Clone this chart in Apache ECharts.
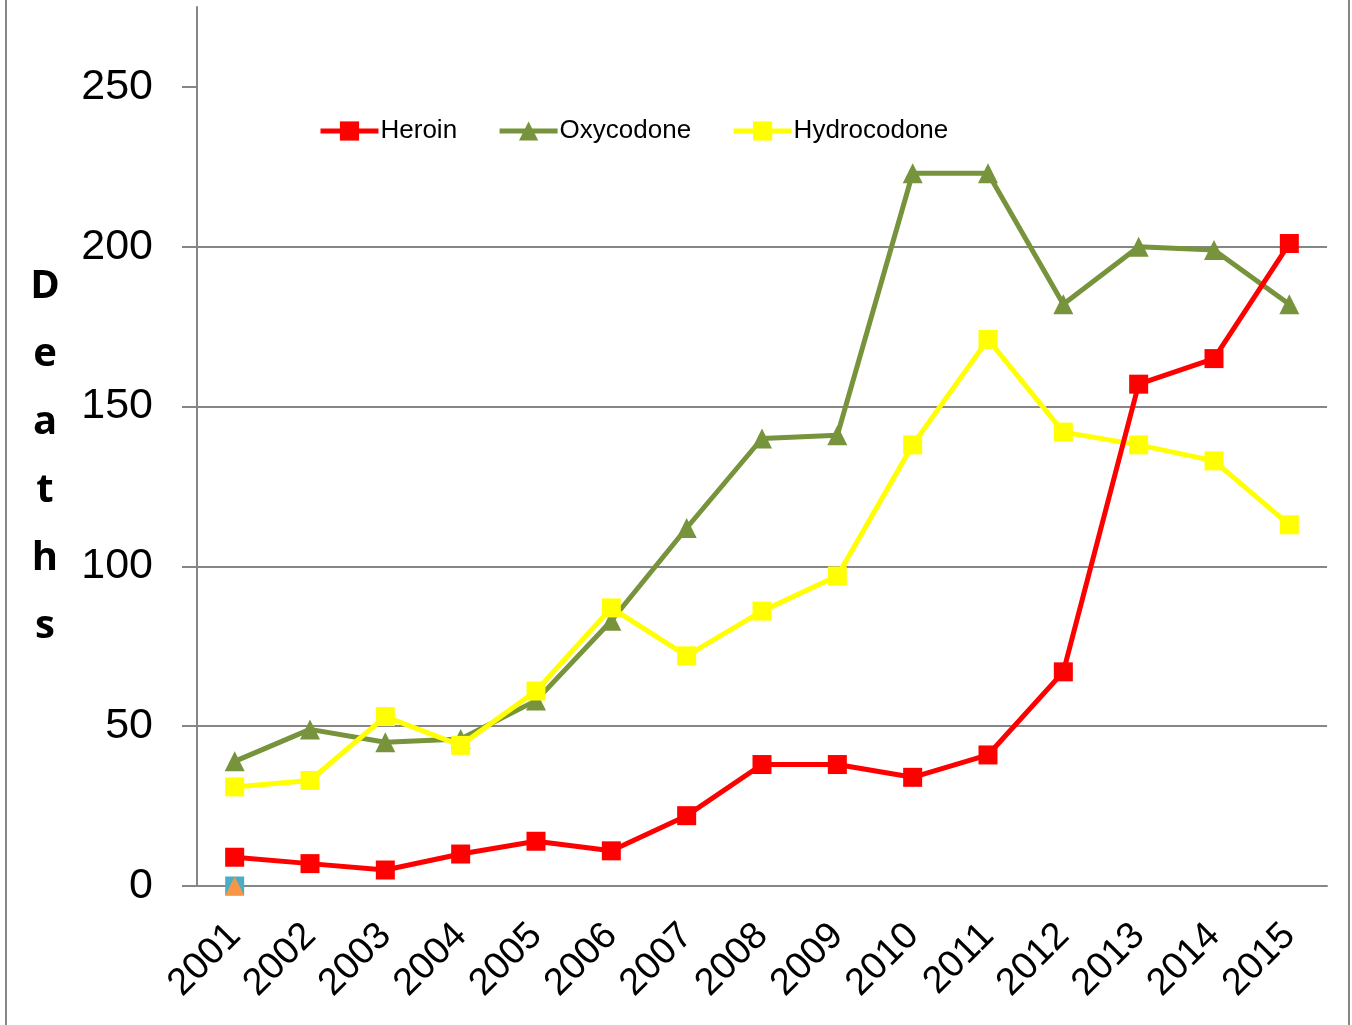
<!DOCTYPE html>
<html>
<head>
    <meta charset="UTF-8">
    <title>Deaths chart</title>
    <style>
        html, body { margin: 0; padding: 0; background: #fff; }
        #chart { width: 1352px; height: 1025px; }
    </style>
</head>
<body>
    <div id="chart"></div>
    <script src="https://cdn.jsdelivr.net/npm/echarts@6/dist/echarts.min.js"></script>
    <script>
        var years = ['2001', '2002', '2003', '2004', '2005', '2006', '2007', '2008',
            '2009', '2010', '2011', '2012', '2013', '2014', '2015'];
        var heroin = [9, 7, 5, 10, 14, 11, 22, 38, 38, 34, 41, 67, 157, 165, 201];
        var oxycodone = [39, 49, 45, 46, 58, 83, 112, 140, 141, 223, 223, 182, 200, 199, 182];
        var hydrocodone = [31, 33, 53, 44, 61, 87, 72, 86, 97, 138, 171, 142, 138, 133, 113];
        // two stray series that only have a zero at 2001
        var extraA = [0];
        var extraB = [0];
        var yTicks = [0, 50, 100, 150, 200, 250];

        (function initChart() {
            var myChart = echarts.init(document.getElementById('chart'));
            var gray = '#868686';

            var options = {
                animation: false,
                textStyle: { fontFamily: 'Liberation Sans' },
                title: {
                    text: 'D\ne\na\nt\nh\ns',
                    left: 40,
                    top: 248,
                    textAlign: 'center',
                    textStyle: {
                        fontSize: 40,
                        fontWeight: 'bold',
                        lineHeight: 68,
                        color: '#000',
                        fontFamily: 'Open Sans'
                    }
                },
                legend: {
                    left: 313,
                    top: 113,
                    itemWidth: 58,
                    itemHeight: 24,
                    itemGap: 40,
                    lineStyle: { width: 5 },
                    textStyle: { fontSize: 26, color: '#000', padding: [0, 0, 0, -3] },
                    data: ['Heroin', 'Oxycodone', 'Hydrocodone']
                },
                grid: {
                    left: 197,
                    right: 25,
                    top: 7,
                    bottom: 139,
                    containLabel: false
                },
                xAxis: {
                    type: 'category',
                    data: years,
                    boundaryGap: true,
                    axisLine: { lineStyle: { color: gray, width: 2 } },
                    axisTick: { length: 13, lineStyle: { color: gray, width: 2 } },
                    axisLabel: {
                        rotate: 45,
                        fontSize: 38,
                        color: '#000',
                        margin: 44,
                        interval: 0
                    }
                },
                yAxis: {
                    type: 'value',
                    min: 0,
                    max: 275,
                    interval: 50,
                    axisLine: { show: true, lineStyle: { color: gray, width: 2 } },
                    axisTick: {
                        show: true,
                        length: 15,
                        customValues: yTicks,
                        lineStyle: { color: gray, width: 2 }
                    },
                    axisLabel: {
                        fontSize: 43,
                        color: '#000',
                        margin: 44,
                        customValues: yTicks
                    },
                    splitLine: {
                        showMaxLine: false,
                        lineStyle: { color: gray, width: 2 }
                    }
                },
                graphic: [{
                    type: 'rect',
                    shape: { x: 6, y: -10, width: 1343, height: 1050 },
                    style: { fill: 'none', stroke: gray, lineWidth: 2 },
                    silent: true
                }],
                series: [{
                        name: 'Heroin',
                        type: 'line',
                        data: heroin,
                        symbol: 'rect',
                        symbolSize: 19,
                        z: 4,
                        itemStyle: { color: '#ff0000' },
                        lineStyle: { width: 5, color: '#ff0000' }
                    },
                    {
                        name: 'Oxycodone',
                        type: 'line',
                        data: oxycodone,
                        symbol: 'triangle',
                        symbolSize: 20,
                        z: 2,
                        itemStyle: { color: '#77933c' },
                        lineStyle: { width: 5, color: '#77933c' }
                    },
                    {
                        name: 'Hydrocodone',
                        type: 'line',
                        data: hydrocodone,
                        symbol: 'rect',
                        symbolSize: 19,
                        z: 3,
                        itemStyle: { color: '#ffff00' },
                        lineStyle: { width: 5, color: '#ffff00' }
                    },
                    {
                        name: 'extraA',
                        type: 'line',
                        data: extraA,
                        symbol: 'rect',
                        symbolSize: 19,
                        itemStyle: { color: '#4bacc6' }
                    },
                    {
                        name: 'extraB',
                        type: 'line',
                        data: extraB,
                        symbol: 'triangle',
                        symbolSize: 19,
                        itemStyle: { color: '#f79646' }
                    }
                ]
            };

            myChart.setOption(options, true);
        })();
    </script>
</body>
</html>
